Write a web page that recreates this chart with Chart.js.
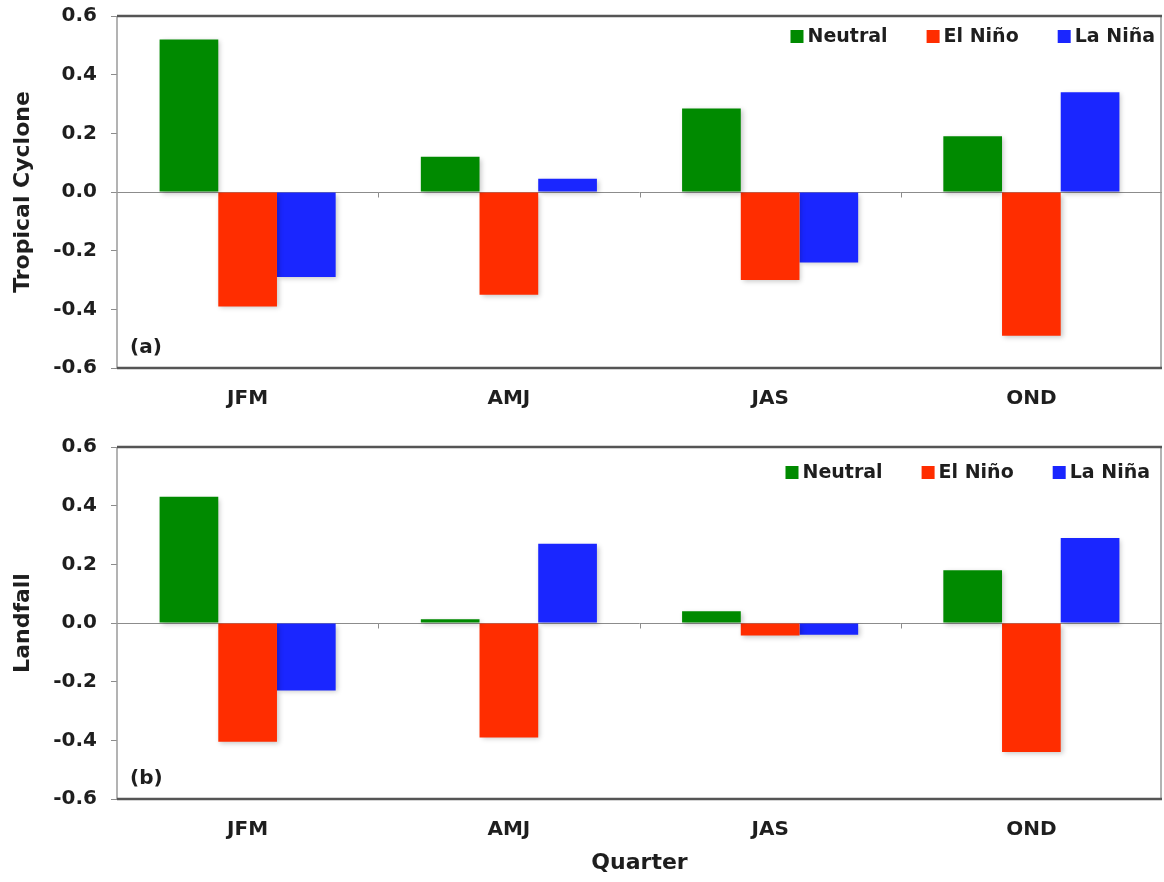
<!DOCTYPE html>
<html>
<head>
<meta charset="utf-8">
<script src="https://cdn.jsdelivr.net/npm/chart.js@4/dist/chart.umd.min.js"></script>
<style>
  html, body { margin: 0; padding: 0; background: #fff; }
  #wrap { position: relative; width: 1164px; height: 882px; }
  canvas { position: absolute; left: 0; }
  #c1 { top: 0; }
  #c2 { top: 430px; }
</style>
</head>
<body>
<div id="wrap">
  <canvas id="c1" width="1164" height="420"></canvas>
  <canvas id="c2" width="1164" height="452"></canvas>
</div>
<script>
// Quarters and ENSO phases
const quarters = ['JFM', 'AMJ', 'JAS', 'OND'];
const phaseNames = ['Neutral', 'El Niño', 'La Niña'];
const phaseColors = ['#008a00', '#ff2d00', '#1a26ff'];

// (a) Tropical cyclone anomalies
const cycloneNeutral = [0.52, 0.12, 0.285, 0.19];
const cycloneElNino  = [-0.39, -0.35, -0.30, -0.49];
const cycloneLaNina  = [-0.29, 0.045, -0.24, 0.34];

// (b) Landfall anomalies
const landfallNeutral = [0.43, 0.013, 0.04, 0.18];
const landfallElNino  = [-0.405, -0.39, -0.043, -0.44];
const landfallLaNina  = [-0.23, 0.27, -0.04, 0.29];

// Value axis range
const yMin = -0.6, yMax = 0.6, yStep = 0.2;

const FONT = '"DejaVu Sans", Verdana, sans-serif';
const TEXT = '#1e1e1e';

// Soft drop shadow under the bars
const barShadow = {
  id: 'barShadow',
  beforeDatasetDraw(chart) {
    const ctx = chart.ctx;
    ctx.save();
    ctx.shadowColor = 'rgba(0,0,0,0.22)';
    ctx.shadowBlur = 5;
    ctx.shadowOffsetX = 2;
    ctx.shadowOffsetY = 2;
  },
  afterDatasetDraw(chart) { chart.ctx.restore(); }
};

// Frame, zero line and category separators
const frame = {
  id: 'frame',
  beforeDatasetsDraw(chart) {
    const { ctx, chartArea: a, scales: { x, y } } = chart;
    const y0 = Math.round(y.getPixelForValue(0)) + 0.5;
    ctx.save();
    ctx.strokeStyle = '#8c8c8c';
    ctx.lineWidth = 1;
    ctx.beginPath();
    ctx.moveTo(a.left, y0); ctx.lineTo(a.right, y0);
    for (let i = 0; i < quarters.length - 1; i++) {
      const xb = Math.round((x.getPixelForTick(i) + x.getPixelForTick(i + 1)) / 2) + 0.5;
      ctx.moveTo(xb, y0); ctx.lineTo(xb, y0 + 5);
    }
    ctx.stroke();
    ctx.restore();
  },
  afterDatasetsDraw(chart) {
    const { ctx, chartArea: a } = chart;
    ctx.save();
    ctx.strokeStyle = '#9a9a9a';
    ctx.lineWidth = 1.5;
    ctx.beginPath();
    ctx.moveTo(a.left, a.top); ctx.lineTo(a.left, a.bottom);
    ctx.moveTo(a.right - 1, a.top); ctx.lineTo(a.right - 1, a.bottom);
    ctx.stroke();
    ctx.strokeStyle = '#555';
    ctx.lineWidth = 2.5;
    ctx.beginPath();
    ctx.moveTo(a.left, a.top); ctx.lineTo(a.right, a.top);
    ctx.moveTo(a.left, a.bottom); ctx.lineTo(a.right, a.bottom);
    ctx.stroke();
    ctx.restore();
  }
};

// Legend inside the plot, top right, plus the panel letter
const panelDecor = {
  id: 'panelDecor',
  afterDraw(chart, args, opts) {
    const { ctx, chartArea: a } = chart;
    ctx.save();
    ctx.font = 'bold 19px ' + FONT;
    ctx.textBaseline = 'middle';
    ctx.fillStyle = TEXT;
    const cy = a.top + opts.legendDy;
    let cur = a.right - opts.legendRight;
    const ds = chart.data.datasets;
    for (let i = ds.length - 1; i >= 0; i--) {
      const label = ds[i].label;
      const w = ctx.measureText(label).width;
      const tx = cur - w;
      ctx.fillStyle = TEXT;
      ctx.textAlign = 'left';
      ctx.fillText(label, tx, cy);
      const bx = tx - 4 - 13;
      ctx.fillStyle = ds[i].backgroundColor;
      ctx.fillRect(bx, cy - 7, 13, 13);
      cur = bx - 39;
    }
    ctx.font = 'bold 20px ' + FONT;
    ctx.fillStyle = TEXT;
    ctx.textAlign = 'left';
    ctx.fillText(opts.letter, a.left + 13, a.bottom - opts.letterDy);
    ctx.restore();
  }
};

function makeChart(id, values, yTitle, xTitle, cfg) {
  return new Chart(document.getElementById(id), {
    type: 'bar',
    data: {
      labels: quarters,
      datasets: values.map((v, i) => ({
        label: phaseNames[i],
        data: v,
        backgroundColor: phaseColors[i],
        borderWidth: 0
      }))
    },
    options: {
      responsive: false,
      animation: false,
      devicePixelRatio: 1,
      layout: { padding: { top: cfg.padTop, right: 2, left: 0, bottom: 0 } },
      datasets: { bar: { barPercentage: 1, categoryPercentage: 0.674 } },
      plugins: {
        legend: { display: false },
        tooltip: { enabled: false },
        panelDecor: { letter: cfg.letter, legendDy: cfg.legendDy, legendRight: cfg.legendRight, letterDy: 20 }
      },
      scales: {
        x: {
          afterFit(s) { s.height = cfg.xHeight; },
          grid: { display: false },
          border: { display: false },
          ticks: { color: TEXT, font: { family: FONT, size: 20, weight: 'bold' }, padding: 11 },
          title: {
            display: !!xTitle,
            text: xTitle || '',
            color: TEXT,
            font: { family: FONT, size: 22, weight: 'bold' },
            padding: { top: 0, bottom: 6 }
          }
        },
        y: {
          min: yMin, max: yMax,
          afterFit(s) { s.width = 117; s.paddingTop = 0; s.paddingBottom = 0; },
          grid: { drawOnChartArea: false, drawTicks: true, tickLength: 6, color: '#8c8c8c' },
          border: { display: false },
          ticks: {
            stepSize: yStep,
            color: TEXT,
            padding: 14,
            font: { family: FONT, size: 20, weight: 'bold' },
            callback: v => Number(v).toFixed(1)
          },
          title: {
            display: true,
            text: yTitle,
            color: TEXT,
            font: { family: FONT, size: 22, weight: 'bold' },
            padding: { top: 10, bottom: 0 }
          }
        }
      }
    },
    plugins: [frame, barShadow, panelDecor]
  });
}

makeChart('c1', [cycloneNeutral, cycloneElNino, cycloneLaNina], 'Tropical Cyclone', null,
  { padTop: 16, xHeight: 52, letter: '(a)', legendDy: 21, legendRight: 7 });
makeChart('c2', [landfallNeutral, landfallElNino, landfallLaNina], 'Landfall', 'Quarter',
  { padTop: 17, xHeight: 83, letter: '(b)', legendDy: 26, legendRight: 12 });
</script>
</body>
</html>
